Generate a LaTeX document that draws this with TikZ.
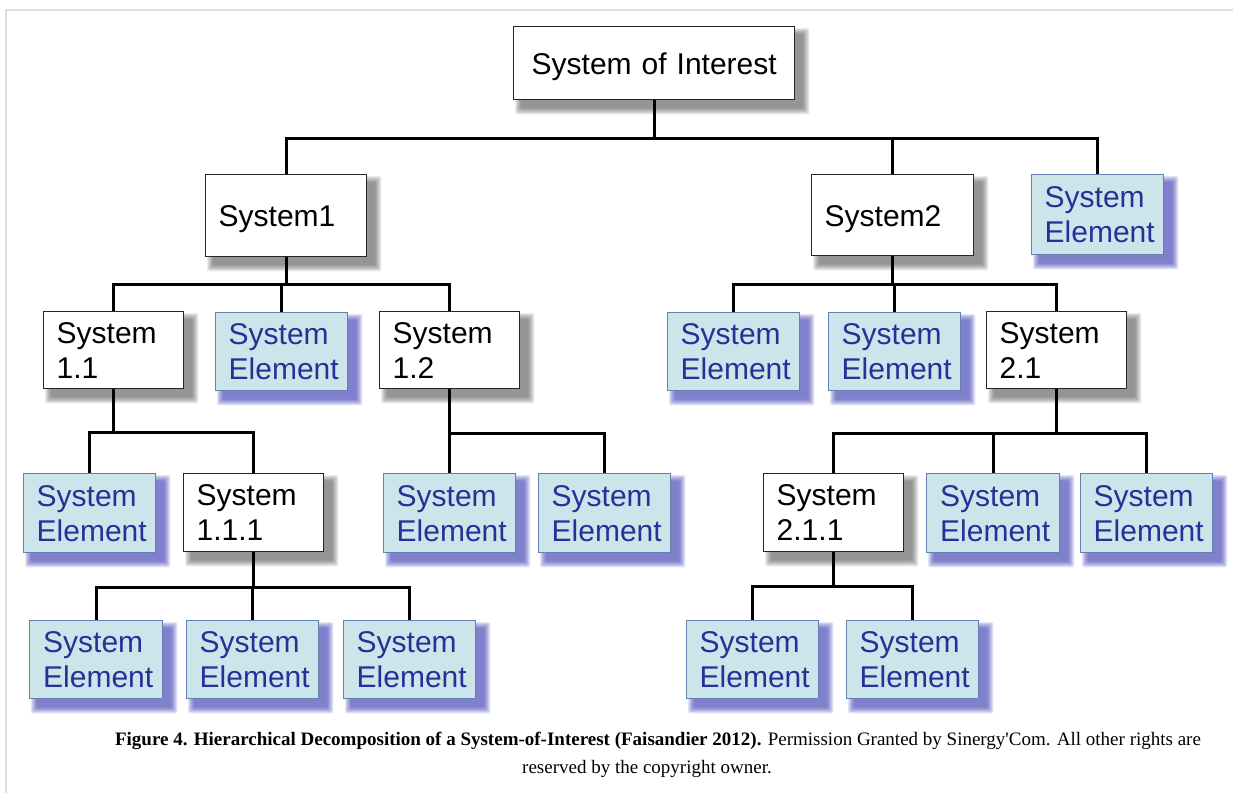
\documentclass[tikz,border=0pt]{standalone}
\usepackage{fontspec}
\setmainfont{Liberation Sans}
\newfontfamily\capfont{Liberation Serif}
\pgfdeclarelayer{bg}
\pgfsetlayers{bg,main}
\definecolor{sefill}{RGB}{204,229,235}
\definecolor{sedraw}{RGB}{100,128,175}
\definecolor{setext}{RGB}{38,48,150}
\definecolor{seshadow}{RGB}{50,50,175}
\definecolor{syshadow}{RGB}{55,55,55}
\definecolor{framegray}{RGB}{221,221,221}
\newcommand\dropsh[3]{%
  \foreach \e in {0,...,6}{%
    \fill[#2, opacity=#3, rounded corners=2pt]
      ([shift={(8-\e,8-\e)}]#1.north west) rectangle ([shift={(8+\e,8+\e)}]#1.south east);
  }}
\begin{document}
\begin{tikzpicture}[x=1pt,y=-1pt,
  base/.style={rectangle, inner xsep=13pt, inner ysep=0pt, align=left,
    font=\fontsize{30}{35}\selectfont, anchor=north west, line width=1.4pt},
  sysbox/.style={base, draw=black!85, fill=white, text=black},
  sebox/.style={base, draw=sedraw, fill=sefill, text=setext},
  wsys/.style={sysbox, text width=114pt, minimum width=140pt, minimum height=77pt},
  wse/.style={sebox, text width=106pt, minimum width=132pt, minimum height=78pt},
  onel/.style={sysbox, text height=22pt, text depth=-3pt},
  link/.style={line width=2.6pt, black},
  captxt/.style={font=\capfont\fontsize{19}{24}\selectfont, anchor=base, inner sep=0pt}
]
\useasboundingbox (0,0) rectangle (1233,793);
\draw[framegray, line width=2pt] (6,793) -- (6,10) -- (1233,10);

% level 0
\node[onel, align=center, text width=251pt, minimum width=281pt, minimum height=73pt] (root) at (513,26) {System of Interest};
% level 1
\node[onel, text width=135pt, minimum width=161pt, minimum height=82pt] (s1) at (205,174) {System1};
\node[onel, text width=136pt, minimum width=162pt, minimum height=81pt] (s2) at (811,174) {System2};
\node[wse, minimum height=80pt] (se0) at (1031,174) {System\\Element};
% level 2
\node[wsys] (s11) at (43,311) {System\\1.1};
\node[wse] (se1) at (215,312) {System\\Element};
\node[wsys] (s12) at (379,311) {System\\1.2};
\node[wse] (se2) at (667,312) {System\\Element};
\node[wse] (se3) at (828,312) {System\\Element};
\node[wsys] (s21) at (986,311) {System\\2.1};
% level 3
\node[wse, minimum width=131pt, minimum height=79pt] (se4) at (23,473) {System\\Element};
\node[wsys, minimum height=78pt] (s111) at (183,473) {System\\1.1.1};
\node[wse, minimum height=79pt] (se5) at (383,473) {System\\Element};
\node[wse, minimum height=79pt] (se6) at (538,473) {System\\Element};
\node[wsys, minimum height=78pt] (s211) at (763,473) {System\\2.1.1};
\node[wse, minimum width=133pt, minimum height=79pt] (se7) at (926,473) {System\\Element};
\node[wse, minimum height=79pt] (se8) at (1080,473) {System\\Element};
% level 4
\node[wse, minimum width=133pt] (se9) at (29,620) {System\\Element};
\node[wse] (se10) at (186,620) {System\\Element};
\node[wse] (se11) at (343,620) {System\\Element};
\node[wse] (se12) at (686,620) {System\\Element};
\node[wse] (se13) at (846,620) {System\\Element};

% shadows
\begin{pgfonlayer}{bg}
  \foreach \n in {root,s1,s2,s11,s12,s21,s111,s211}{\dropsh{\n}{syshadow}{0.10}}
  \foreach \n in {se0,se1,se2,se3,se4,se5,se6,se7,se8,se9,se10,se11,se12,se13}{\dropsh{\n}{seshadow}{0.13}}
\end{pgfonlayer}

% connectors
\begin{pgfonlayer}{bg}
\foreach \c in {s1,s2,se0}{\draw[link] (root.south) -- ++(0,38) -| (\c.north);}
\foreach \c in {s11,se1,s12}{\draw[link] (s1.south) -- ++(0,27) -| (\c.north);}
\foreach \c in {se2,se3,s21}{\draw[link] (s2.south) -- ++(0,28) -| (\c.north);}
\foreach \c in {se4,s111}{\draw[link] (s11.south) -- ++(0,43) -| (\c.north);}
\foreach \c in {se5,se6}{\draw[link] (s12.south) -- ++(0,44) -| (\c.north);}
\foreach \c in {s211,se7,se8}{\draw[link] (s21.south) -- ++(0,44) -| (\c.north);}
\foreach \c in {se9,se10,se11}{\draw[link] (s111.south) -- ++(0,35) -| (\c.north);}
\foreach \c in {se12,se13}{\draw[link] (s211.south) -- ++(0,34) -| (\c.north);}
\end{pgfonlayer}

% caption
\node[captxt] (cap1) at (658,745) {\textbf{Figure 4. Hierarchical Decomposition of a System-of-Interest (Faisandier 2012).} Permission Granted by Sinergy'Com. All other rights are};
\node[captxt] (cap2) at (647,773) {reserved by the copyright owner.};
\end{tikzpicture}
\end{document}
